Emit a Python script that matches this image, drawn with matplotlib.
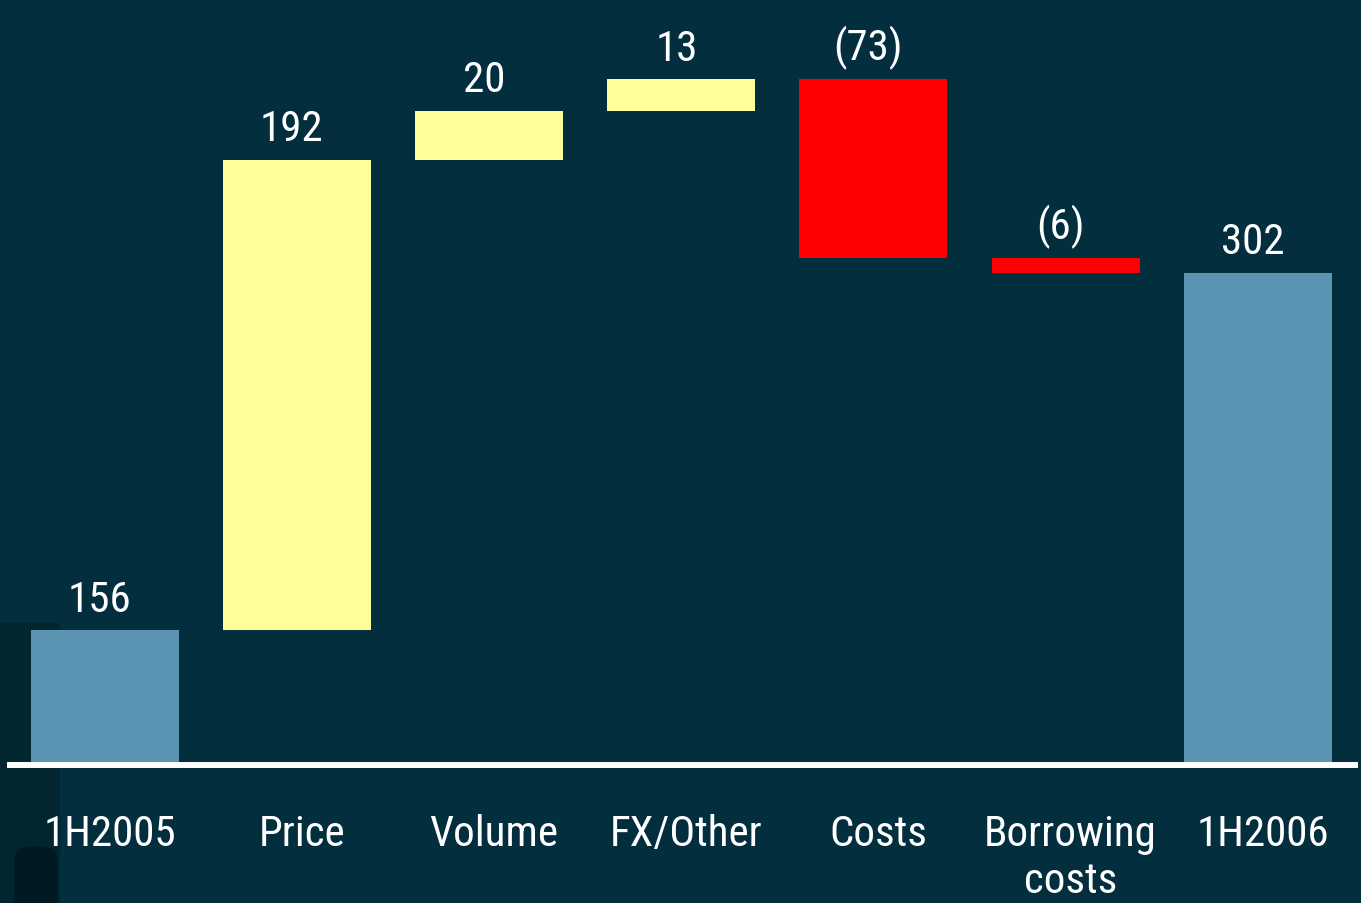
import matplotlib
matplotlib.use("Agg")
import matplotlib.pyplot as plt
import matplotlib.transforms as mtransforms
from matplotlib import font_manager
from matplotlib.patches import Rectangle, FancyBboxPatch

# waterfall of the half-year bridge
categories = ["1H2005", "Price", "Volume", "FX/Other", "Costs", "Borrowing\ncosts", "1H2006"]
start_value = 156
changes = [192, 20, 13, -73, -6]
end_value = 302
value_labels = ["156", "192", "20", "13", "(73)", "(6)", "302"]

bg = "#022e3e"
c_total = "#5b94b2"
c_up = "#ffff99"
c_down = "#ff0000"

# prefer a narrow sans if one is around
installed = {f.name for f in font_manager.fontManager.ttflist}
narrow = [n for n in ["Liberation Sans Narrow", "Roboto Condensed", "Open Sans Condensed",
                      "DejaVu Sans Condensed"] if n in installed]
family = narrow[0] if narrow else "Liberation Sans"
fsize = 31 if narrow else 29
plt.rcParams["font.family"] = [family, "DejaVu Sans"]

fig = plt.figure(figsize=(13.61, 9.04), dpi=100, facecolor=bg)

# faint dark shape bottom-left
fig.patches.append(Rectangle((0, 0), 60 / 1361, 280 / 904, transform=fig.transFigure,
                             facecolor="#01262f", edgecolor="none", zorder=-2))
fig.patches.append(FancyBboxPatch((14 / 1361, -0.02), 44 / 1361, 75 / 904,
                                  boxstyle="round,pad=0,rounding_size=0.015",
                                  transform=fig.transFigure, facecolor="#011a22",
                                  edgecolor="none", zorder=-1))

floor = 101
ax = fig.add_axes([0, 138 / 904, 1, 766 / 904])
ax.set_zorder(2)
ax.set_facecolor("none")
ax.set_xlim(-0.5437, 6.537)
ax.set_ylim(floor, floor + 766 / 2.45)
ax.axis("off")

# build bottoms/heights for each bar
bottoms, heights, colors, tops = [], [], [], []
bottoms.append(floor); heights.append(start_value - floor); colors.append(c_total); tops.append(start_value)
level = start_value
for ch in changes:
    lo, hi = min(level, level + ch), max(level, level + ch)
    bottoms.append(lo); heights.append(hi - lo)
    colors.append(c_up if ch > 0 else c_down)
    tops.append(hi)
    level += ch
bottoms.append(floor); heights.append(end_value - floor); colors.append(c_total); tops.append(end_value)

x = list(range(len(categories)))
ax.bar(x, heights, bottom=bottoms, width=0.77, color=colors, linewidth=0, zorder=2)

for xi, top, lab in zip(x, tops, value_labels):
    ax.annotate(lab, (xi, top), xytext=(-3.5, 14), textcoords="offset points",
                ha="center", va="baseline", color="white", fontsize=fsize)

ax.axhline(floor, xmin=10 / 1361, xmax=1355 / 1361, color="white", lw=4.3,
           clip_on=False, zorder=3)

trans = ax.get_xaxis_transform() + mtransforms.ScaledTranslation(5 / 100, -48 / 100, fig.dpi_scale_trans)
for xi, cat in zip(x, categories):
    ax.text(xi, 0, cat, transform=trans, ha="center", va="top",
            color="white", fontsize=fsize, linespacing=1.2)

plt.savefig("out.png", dpi=100, facecolor=bg)
